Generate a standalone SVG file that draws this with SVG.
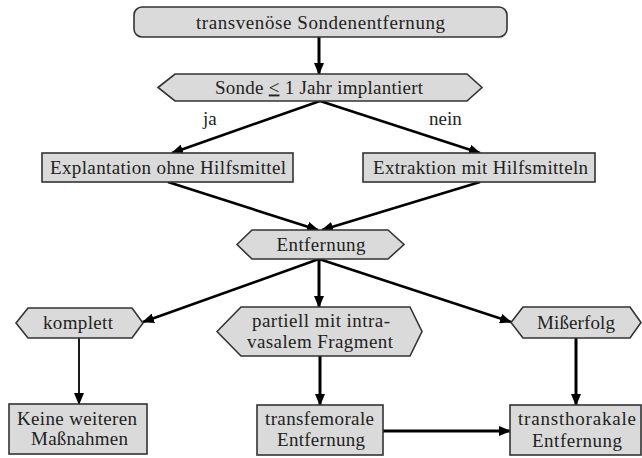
<svg xmlns="http://www.w3.org/2000/svg" width="642" height="458" viewBox="0 0 642 458">
<style>
.n{fill:#dadada;stroke:#333;stroke-width:1.6}
.t{font-family:"Liberation Serif","DejaVu Serif",serif;font-size:19px;fill:#222;text-anchor:middle}
.l{font-family:"Liberation Serif","DejaVu Serif",serif;font-size:19px;fill:#222}
.c{fill:none;stroke:#000;stroke-width:2.6;marker-end:url(#a)}
</style>
<defs>
<marker id="a" markerUnits="userSpaceOnUse" markerWidth="12" markerHeight="10" refX="11" refY="5" orient="auto">
<path d="M0,0 L12,5 L0,10 z" fill="#000"/>
</marker>
</defs>
<rect width="642" height="458" fill="#fff"/>
<g id="connectors">
<line class="c" x1="319" y1="37" x2="319" y2="74" style="stroke-width:3"/>
<line class="c" x1="320" y1="101" x2="172" y2="153"/>
<line class="c" x1="320" y1="101" x2="480" y2="153"/>
<line class="c" x1="168" y1="182" x2="318" y2="230"/>
<line class="c" x1="480" y1="182" x2="322" y2="230"/>
<line class="c" x1="319" y1="259" x2="143" y2="322"/>
<line class="c" x1="319" y1="259" x2="319" y2="307" style="stroke-width:3"/>
<line class="c" x1="319" y1="259" x2="511" y2="322"/>
<line class="c" x1="79" y1="338" x2="79" y2="404" style="stroke-width:1.8"/>
<line class="c" x1="320" y1="356" x2="320" y2="405" style="stroke-width:3"/>
<line class="c" x1="576" y1="338" x2="576" y2="405" style="stroke-width:3"/>
<line class="c" x1="383" y1="431" x2="510" y2="431" style="stroke-width:3"/>
<text class="l" x="203" y="125">ja</text>
<text class="l" x="429" y="125">nein</text>
</g>
<g id="start">
<rect class="n" x="134" y="7" width="373" height="30" rx="8"/>
<text class="t" x="320.5" y="29" textLength="249">transvenöse Sondenentfernung</text>
</g>
<g id="sonde">
<polygon class="n" points="158,87.5 175,74 467,74 482,87.5 467,101 175,101"/>
<text class="t" x="319" y="93.5" textLength="208">Sonde <tspan text-decoration="underline">&lt;</tspan> 1 Jahr implantiert</text>
</g>
<g id="explantation">
<rect class="n" x="42" y="153" width="251" height="29"/>
<text class="t" x="168" y="173.5" textLength="236">Explantation ohne Hilfsmittel</text>
</g>
<g id="extraktion">
<rect class="n" x="363" y="153" width="232" height="29"/>
<text class="t" x="480.5" y="173.5" textLength="215">Extraktion mit Hilfsmitteln</text>
</g>
<g id="entfernung">
<polygon class="n" points="237,244.5 252,230 388,230 404,244.5 388,259 252,259"/>
<text class="t" x="321" y="251" textLength="89">Entfernung</text>
</g>
<g id="komplett">
<polygon class="n" points="16,323 28,308 132,308 143,323 132,338 28,338"/>
<text class="t" x="78" y="328.5" textLength="70">komplett</text>
</g>
<g id="partiell">
<polygon class="n" points="217,331.5 241,307 410,307 422,331.5 410,356 241,356"/>
<text class="t" x="321" y="327" textLength="138">partiell mit intra-</text>
<text class="t" x="320" y="348" textLength="146">vasalem Fragment</text>
</g>
<g id="misserfolg">
<polygon class="n" points="511,322.5 523,307 630,307 641,322.5 630,338 523,338"/>
<text class="t" x="576" y="328.5" textLength="78">Mißerfolg</text>
</g>
<g id="keine">
<rect class="n" x="9" y="404" width="138" height="50"/>
<text class="t" x="77" y="425" textLength="120">Keine weiteren</text>
<text class="t" x="79.5" y="445" textLength="97">Maßnahmen</text>
</g>
<g id="transfemoral">
<rect class="n" x="257" y="405" width="126" height="50"/>
<text class="t" x="319.5" y="425" textLength="109">transfemorale</text>
<text class="t" x="321" y="446" textLength="88">Entfernung</text>
</g>
<g id="transthorakal">
<rect class="n" x="510" y="405" width="131" height="50"/>
<text class="t" x="577" y="425" textLength="118">transthorakale</text>
<text class="t" x="577" y="447" textLength="90">Entfernung</text>
</g>
</svg>
